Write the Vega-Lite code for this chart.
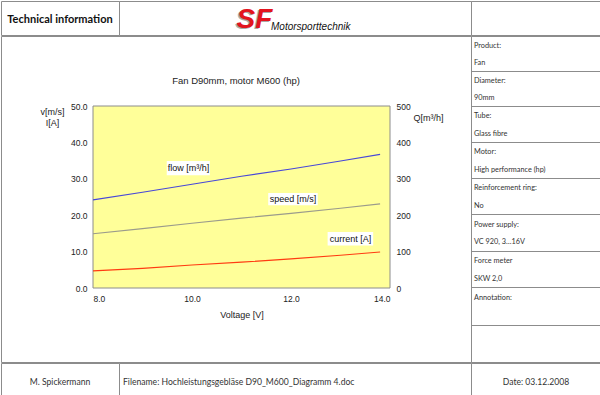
{
  "$schema": "https://vega.github.io/schema/vega-lite/v6.json",
  "padding": 0,
  "background": "white",
  "spacing": -2,
  "bounds": "full",
  "config": {
    "view": {"stroke": "#8c8c8c", "strokeWidth": 1},
    "text": {"font": "Lato", "fontSize": 8.6, "color": "#333333"},
    "axis": {"labelFont": "Liberation Sans", "titleFont": "Liberation Sans", "labelFontSize": 8.5, "titleFontSize": 9, "labelColor": "#222222", "titleColor": "#222222", "titleFontWeight": "normal", "domain": false, "ticks": false, "tickSize": 0, "grid": false, "labelOverlap": false},
    "title": {"font": "Liberation Sans", "fontSize": 9.5, "fontWeight": "normal", "color": "#222222"}
  },
  "vconcat": [
    {
      "spacing": 0,
      "bounds": "flush",
      "hconcat": [
        {
          "width": 118, "height": 34,
          "view": {"stroke": "#8c8c8c"},
          "data": {"values": [{"t": "Technical information"}]},
          "mark": {"type": "text", "font": "Lato", "fontWeight": "bold", "fontSize": 11, "color": "#111111", "dy": 2},
          "encoding": {"text": {"field": "t"}}
        },
        {
          "width": 352, "height": 34,
          "view": {"stroke": "#8c8c8c"},
          "data": {"values": [{"brand": "SF", "sub": "Motorsporttechnik"}]},
          "layer": [
            {"mark": {"type": "text", "font": "Liberation Sans", "fontWeight": "bold", "fontStyle": "italic", "fontSize": 28, "color": "#a9a9a9", "baseline": "middle", "dx": -42, "dy": 3}, "encoding": {"text": {"field": "brand"}}},
            {"mark": {"type": "text", "font": "Liberation Sans", "fontWeight": "bold", "fontStyle": "italic", "fontSize": 28, "color": "#e3141e", "baseline": "middle", "dx": -40.5, "dy": 2}, "encoding": {"text": {"field": "brand"}}},
            {"mark": {"type": "text", "font": "Liberation Sans", "fontStyle": "italic", "fontSize": 10, "color": "#111111", "align": "left", "baseline": "middle", "dx": -24, "dy": 9}, "encoding": {"text": {"field": "sub"}}}
          ]
        },
        {
          "width": 130, "height": 34,
          "view": {"stroke": "#8c8c8c"},
          "data": {"values": [{"t": ""}]},
          "mark": {"type": "text"},
          "encoding": {"text": {"field": "t"}}
        }
      ]
    },
    {
      "spacing": -3,
      "bounds": "full",
      "vconcat": [
        {
          "spacing": 0,
          "bounds": "flush",
          "hconcat": [
            {
              "width": 470, "height": 326,
              "title": {"text": "Fan D90mm, motor M600 (hp)", "anchor": "middle", "frame": "group", "offset": -49},
              "layer": [
                {
                  "layer": [
                    {
                      "data": {"values": [{}]},
                      "mark": {"type": "rect", "fill": "#ffff99", "stroke": "#8c8c8c", "strokeWidth": 1},
                      "encoding": {
                        "x": {"datum": 8, "type": "quantitative", "title": "Voltage [V]",
                          "scale": {"domain": [8, 14], "range": [92, 389], "nice": false, "zero": false},
                          "axis": {"values": [8, 10, 12, 14], "format": ".1f", "offset": -74, "labelPadding": 6, "titleY": 26, "titleBaseline": "middle"}},
                        "x2": {"datum": 14},
                        "y": {"datum": 0, "type": "quantitative", "title": ["v[m/s]", "I[A]"],
                          "scale": {"domain": [0, 50], "range": [252, 70], "nice": false, "zero": false},
                          "axis": {"values": [0, 5, 10, 15, 20, 25, 30, 35, 40, 45, 50], "format": ".1f", "offset": -92, "labelPadding": 6, "titleAngle": 0, "titleX": -41, "titleY": 71, "titleAlign": "center", "titleBaseline": "top", "titleLineHeight": 11}},
                        "y2": {"datum": 50}
                      }
                    },
                    {
                      "data": {"values": [
                        {"series": "speed", "V": 8, "value": 14.9},
                        {"series": "speed", "V": 9, "value": 16.3},
                        {"series": "speed", "V": 10, "value": 17.8},
                        {"series": "speed", "V": 11, "value": 19.2},
                        {"series": "speed", "V": 12, "value": 20.5},
                        {"series": "speed", "V": 13, "value": 21.9},
                        {"series": "speed", "V": 13.8, "value": 23.1},
                        {"series": "current", "V": 8, "value": 4.7},
                        {"series": "current", "V": 9, "value": 5.4},
                        {"series": "current", "V": 10, "value": 6.3},
                        {"series": "current", "V": 11, "value": 7.1},
                        {"series": "current", "V": 12, "value": 8.0},
                        {"series": "current", "V": 13, "value": 9.0},
                        {"series": "current", "V": 13.8, "value": 9.9}
                      ]},
                      "mark": {"type": "line", "strokeWidth": 1.1},
                      "encoding": {
                        "x": {"field": "V", "type": "quantitative", "title": "Voltage [V]"},
                        "y": {"field": "value", "type": "quantitative", "title": ["v[m/s]", "I[A]"]},
                        "color": {"field": "series", "type": "nominal", "scale": {"domain": ["speed", "current"], "range": ["#9b9b8c", "#ff3b12"]}, "legend": null}
                      }
                    },
                    {
                      "data": {"values": [
                        {"label": "speed [m/s]", "V": 12.04, "val": 24.4, "V0": 11.54, "V1": 12.54, "val0": 22.7, "val1": 26.1},
                        {"label": "current [A]", "V": 13.2, "val": 13.55, "V0": 12.74, "V1": 13.66, "val0": 11.7, "val1": 15.4}
                      ]},
                      "layer": [
                        {"mark": {"type": "rect", "fill": "white"},
                         "encoding": {"x": {"field": "V0", "type": "quantitative", "title": "Voltage [V]"}, "x2": {"field": "V1"}, "y": {"field": "val0", "type": "quantitative", "title": ["v[m/s]", "I[A]"]}, "y2": {"field": "val1"}}},
                        {"mark": {"type": "text", "font": "Liberation Sans", "fontSize": 9, "color": "#111111", "baseline": "middle"},
                         "encoding": {"x": {"field": "V", "type": "quantitative", "title": "Voltage [V]"}, "y": {"field": "val", "type": "quantitative", "title": ["v[m/s]", "I[A]"]}, "text": {"field": "label"}}}
                      ]
                    }
                  ]
                },
                {
                  "layer": [
                    {
                      "data": {"values": [
                        {"V": 8, "Q": 242},
                        {"V": 9, "Q": 263},
                        {"V": 10, "Q": 285},
                        {"V": 11, "Q": 307},
                        {"V": 12, "Q": 327},
                        {"V": 13, "Q": 349},
                        {"V": 13.8, "Q": 367}
                      ]},
                      "mark": {"type": "line", "strokeWidth": 1.1, "color": "#4848d8"},
                      "encoding": {
                        "x": {"field": "V", "type": "quantitative", "title": "Voltage [V]"},
                        "y": {"field": "Q", "type": "quantitative", "title": "Q[m³/h]",
                          "scale": {"domain": [0, 500], "range": [252, 70], "nice": false, "zero": false},
                          "axis": {"orient": "right", "values": [0, 50, 100, 150, 200, 250, 300, 350, 400, 450, 500], "format": "d", "offset": -81, "labelPadding": 6, "titleAngle": 0, "titleX": 23, "titleY": 81, "titleAlign": "left", "titleBaseline": "middle"}}
                      }
                    },
                    {
                      "data": {"values": [
                        {"label": "flow [m³/h]", "V": 9.93, "Q": 330, "V0": 9.49, "V1": 10.36, "Q0": 310, "Q1": 349}
                      ]},
                      "layer": [
                        {"mark": {"type": "rect", "fill": "white"},
                         "encoding": {"x": {"field": "V0", "type": "quantitative", "title": "Voltage [V]"}, "x2": {"field": "V1"}, "y": {"field": "Q0", "type": "quantitative", "title": "Q[m³/h]"}, "y2": {"field": "Q1"}}},
                        {"mark": {"type": "text", "font": "Liberation Sans", "fontSize": 9, "color": "#111111", "baseline": "middle"},
                         "encoding": {"x": {"field": "V", "type": "quantitative", "title": "Voltage [V]"}, "y": {"field": "Q", "type": "quantitative", "title": "Q[m³/h]"}, "text": {"field": "label"}}}
                      ]
                    }
                  ]
                }
              ],
              "resolve": {"scale": {"y": "independent"}}
            },
            {
              "spacing": 0,
              "bounds": "flush",
              "vconcat": [
                {"width": 130, "height": 35, "data": {"values": [{"line": 1, "text": "Product:"}, {"line": 2, "text": "Fan"}]},
                 "mark": {"type": "text", "align": "left", "baseline": "middle", "dx": -62, "dy": 1, "fontSize": 7.3, "font": "Lato", "color": "#333333"},
                 "encoding": {"y": {"field": "line", "type": "ordinal", "scale": {"type": "point", "padding": 0.55, "domain": [1, 2]}, "axis": null}, "text": {"field": "text"}}},
                {"width": 130, "height": 35, "data": {"values": [{"line": 1, "text": "Diameter:"}, {"line": 2, "text": "90mm"}]},
                 "mark": {"type": "text", "align": "left", "baseline": "middle", "dx": -62, "dy": 1, "fontSize": 7.3, "font": "Lato", "color": "#333333"},
                 "encoding": {"y": {"field": "line", "type": "ordinal", "scale": {"type": "point", "padding": 0.55, "domain": [1, 2]}, "axis": null}, "text": {"field": "text"}}},
                {"width": 130, "height": 36, "data": {"values": [{"line": 1, "text": "Tube:"}, {"line": 2, "text": "Glass fibre"}]},
                 "mark": {"type": "text", "align": "left", "baseline": "middle", "dx": -62, "dy": 1, "fontSize": 7.3, "font": "Lato", "color": "#333333"},
                 "encoding": {"y": {"field": "line", "type": "ordinal", "scale": {"type": "point", "padding": 0.55, "domain": [1, 2]}, "axis": null}, "text": {"field": "text"}}},
                {"width": 130, "height": 36, "data": {"values": [{"line": 1, "text": "Motor:"}, {"line": 2, "text": "High performance (hp)"}]},
                 "mark": {"type": "text", "align": "left", "baseline": "middle", "dx": -62, "dy": 1, "fontSize": 7.3, "font": "Lato", "color": "#333333"},
                 "encoding": {"y": {"field": "line", "type": "ordinal", "scale": {"type": "point", "padding": 0.55, "domain": [1, 2]}, "axis": null}, "text": {"field": "text"}}},
                {"width": 130, "height": 36, "data": {"values": [{"line": 1, "text": "Reinforcement ring:"}, {"line": 2, "text": "No"}]},
                 "mark": {"type": "text", "align": "left", "baseline": "middle", "dx": -62, "dy": 1, "fontSize": 7.3, "font": "Lato", "color": "#333333"},
                 "encoding": {"y": {"field": "line", "type": "ordinal", "scale": {"type": "point", "padding": 0.55, "domain": [1, 2]}, "axis": null}, "text": {"field": "text"}}},
                {"width": 130, "height": 37, "data": {"values": [{"line": 1, "text": "Power supply:"}, {"line": 2, "text": "VC 920, 3…16V"}]},
                 "mark": {"type": "text", "align": "left", "baseline": "middle", "dx": -62, "dy": 1, "fontSize": 7.3, "font": "Lato", "color": "#333333"},
                 "encoding": {"y": {"field": "line", "type": "ordinal", "scale": {"type": "point", "padding": 0.55, "domain": [1, 2]}, "axis": null}, "text": {"field": "text"}}},
                {"width": 130, "height": 36, "data": {"values": [{"line": 1, "text": "Force meter"}, {"line": 2, "text": "SKW 2,0"}]},
                 "mark": {"type": "text", "align": "left", "baseline": "middle", "dx": -62, "dy": 1, "fontSize": 7.3, "font": "Lato", "color": "#333333"},
                 "encoding": {"y": {"field": "line", "type": "ordinal", "scale": {"type": "point", "padding": 0.55, "domain": [1, 2]}, "axis": null}, "text": {"field": "text"}}},
                {"width": 130, "height": 38, "data": {"values": [{"line": 1, "text": "Annotation:"}]},
                 "mark": {"type": "text", "align": "left", "baseline": "middle", "dx": -62, "dy": 1, "fontSize": 7.3, "font": "Lato", "color": "#333333"},
                 "encoding": {"y": {"field": "line", "type": "ordinal", "scale": {"type": "point", "padding": 0.6, "domain": [1, 2]}, "axis": null}, "text": {"field": "text"}}},
                {"width": 130, "height": 37, "data": {"values": [{"line": 1, "text": ""}]},
                 "mark": {"type": "text", "align": "left", "baseline": "middle", "dx": -62, "fontSize": 7.3},
                 "encoding": {"y": {"field": "line", "type": "ordinal", "scale": {"type": "point", "padding": 0.55, "domain": [1, 2]}, "axis": null}, "text": {"field": "text"}}}
              ]
            }
          ]
        },
        {
          "spacing": 0,
          "bounds": "flush",
          "hconcat": [
            {
              "width": 118, "height": 35,
              "view": {"stroke": "#8c8c8c"},
              "data": {"values": [{"t": "M. Spickermann"}]},
              "mark": {"type": "text", "dy": 1},
              "encoding": {"text": {"field": "t"}}
            },
            {
              "width": 352, "height": 35,
              "view": {"stroke": "#8c8c8c"},
              "data": {"values": [{"t": "Filename: Hochleistungsgebläse D90_M600_Diagramm 4.doc"}]},
              "mark": {"type": "text", "align": "left", "dx": -172, "dy": 1},
              "encoding": {"text": {"field": "t"}}
            },
            {
              "width": 130, "height": 35,
              "view": {"stroke": "#8c8c8c"},
              "data": {"values": [{"t": "Date: 03.12.2008"}]},
              "mark": {"type": "text", "dy": 1},
              "encoding": {"text": {"field": "t"}}
            }
          ]
        }
      ]
    }
  ]
}
